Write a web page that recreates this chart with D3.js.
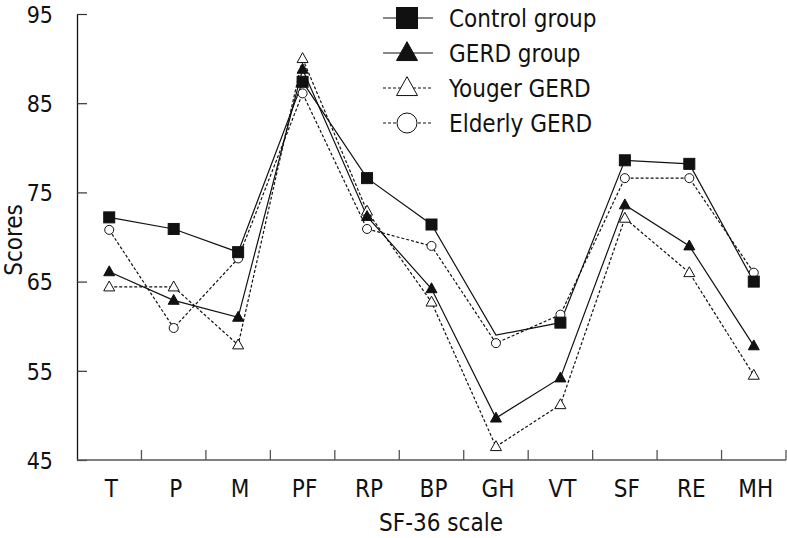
<!DOCTYPE html>
<html>
<head>
<meta charset="utf-8">
<script src="https://cdn.jsdelivr.net/npm/d3@7"></script>
<style>
  html, body { margin: 0; padding: 0; background: #fff; }
  svg { display: block; }
  text { font-family: "DejaVu Sans Condensed", "DejaVu Sans", sans-serif; font-stretch: condensed; fill: #111; }
</style>
</head>
<body>
<svg id="chart" width="787" height="538"></svg>
<script>
const categories = ["T", "P", "M", "PF", "RP", "BP", "GH", "VT", "SF", "RE", "MH"];
const controlGroup = [72.2, 70.9, 68.3, 87.4, 76.6, 71.4, 59.0, 60.4, 78.6, 78.2, 65.0];
const gerdGroup    = [66.1, 62.9, 61.0, 88.8, 72.3, 64.2, 49.7, 54.2, 73.6, 69.0, 57.8];
const youngerGerd  = [64.4, 64.4, 57.9, 90.0, 72.9, 62.7, 46.5, 51.2, 72.1, 66.0, 54.5];
const elderlyGerd  = [70.8, 59.8, 67.6, 86.1, 70.9, 69.0, 58.1, 61.3, 76.6, 76.6, 66.0];
const seriesNames  = ["Control group", "GERD group", "Youger GERD", "Elderly GERD"];
const controlHiddenMarkers = ["GH"];
const yTicks = [45, 55, 65, 75, 85, 95];

const svg = d3.select("#chart");
const x = d3.scaleBand().domain(categories).range([77, 786]).padding(0);
const y = d3.scaleLinear().domain([45, 95]).range([460, 14]);

const series = [
  { name: seriesNames[0], values: controlGroup, dash: null, marker: "square", fill: "#111", hide: controlHiddenMarkers },
  { name: seriesNames[1], values: gerdGroup, dash: null, marker: "triangle", fill: "#111", hide: [] },
  { name: seriesNames[2], values: youngerGerd, dash: "3,2", marker: "triangle", fill: "#fff", hide: [] },
  { name: seriesNames[3], values: elderlyGerd, dash: "3,2", marker: "circle", fill: "#fff", hide: [] }
];

// Axes
const yAxis = d3.axisLeft(y).tickValues(yTicks).tickSize(-10).tickPadding(24).tickSizeOuter(0);
const yG = svg.append("g").attr("transform", "translate(77,0)").call(yAxis);
yG.select(".domain").attr("stroke", "#111").attr("stroke-width", 1.3);
yG.selectAll(".tick line").attr("stroke", "#333").attr("stroke-width", 1.2);
yG.selectAll(".tick text").attr("font-size", 23).attr("fill", "#111").attr("dy", "0.36em")
  .style("font-family", '"DejaVu Sans Condensed", "DejaVu Sans", sans-serif');

const xG = svg.append("g");
xG.append("line").attr("x1", x.range()[0]).attr("x2", x.range()[1]).attr("y1", y(45)).attr("y2", y(45))
  .attr("stroke", "#555").attr("stroke-width", 1.5);
xG.selectAll("line.tk").data(categories).enter().append("line").attr("class", "tk")
  .attr("x1", d => x(d) + x.bandwidth()).attr("x2", d => x(d) + x.bandwidth())
  .attr("y1", y(45)).attr("y2", y(45) - 10).attr("stroke", "#555").attr("stroke-width", 1.3);
xG.selectAll("text").data(categories).enter().append("text")
  .attr("x", d => x(d) + x.bandwidth() / 2 + 2).attr("y", 497)
  .attr("text-anchor", "middle").attr("font-size", 24).text(d => d);

svg.append("text").attr("x", 441).attr("y", 531).attr("text-anchor", "middle").attr("font-size", 24).text("SF-36 scale");
svg.append("text").attr("transform", "translate(22,240) rotate(-90)").attr("text-anchor", "middle").attr("font-size", 24).text("Scores");

function drawMarker(g, type, cx, cy, s, fill) {
  if (type === "square") {
    g.append("rect").attr("x", cx - s / 2).attr("y", cy - s / 2).attr("width", s).attr("height", s)
      .attr("fill", fill).attr("stroke", "#111").attr("stroke-width", 1);
  } else if (type === "triangle") {
    const h = s * 0.9;
    g.append("path").attr("d", `M${cx},${cy - h * 0.6} L${cx + s / 2},${cy + h * 0.4} L${cx - s / 2},${cy + h * 0.4} Z`)
      .attr("fill", fill).attr("stroke", "#111").attr("stroke-width", 1);
  } else {
    g.append("circle").attr("cx", cx).attr("cy", cy).attr("r", s / 2)
      .attr("fill", fill).attr("stroke", "#111").attr("stroke-width", 1);
  }
}

const line = d3.line().x((d, i) => x(categories[i]) + x.bandwidth() / 2).y(d => y(d));
const plot = svg.append("g");
series.slice().reverse().forEach(s => {
  plot.append("path").attr("d", line(s.values)).attr("fill", "none").attr("stroke", "#111")
    .attr("stroke-width", 1.2).attr("stroke-dasharray", s.dash);
});
series.slice().reverse().forEach(s => {
  const g = plot.append("g");
  s.values.forEach((v, i) => {
    if (s.hide.includes(categories[i])) return;
    const size = s.marker === "circle" ? 9 : 11;
    drawMarker(g, s.marker, x(categories[i]) + x.bandwidth() / 2, y(v), size, s.fill);
  });
});

// Legend
const legend = svg.append("g");
series.forEach((s, i) => {
  const cy = 18 + i * 35;
  legend.append("line").attr("x1", 383).attr("x2", 433).attr("y1", cy).attr("y2", cy)
    .attr("stroke", "#111").attr("stroke-width", 1.2).attr("stroke-dasharray", s.dash);
  drawMarker(legend, s.marker, 407, cy, s.marker === "circle" ? 20 : 21, s.fill);
  legend.append("text").attr("x", 449).attr("y", cy + 9).attr("font-size", 24).text(s.name);
});
</script>
</body>
</html>
